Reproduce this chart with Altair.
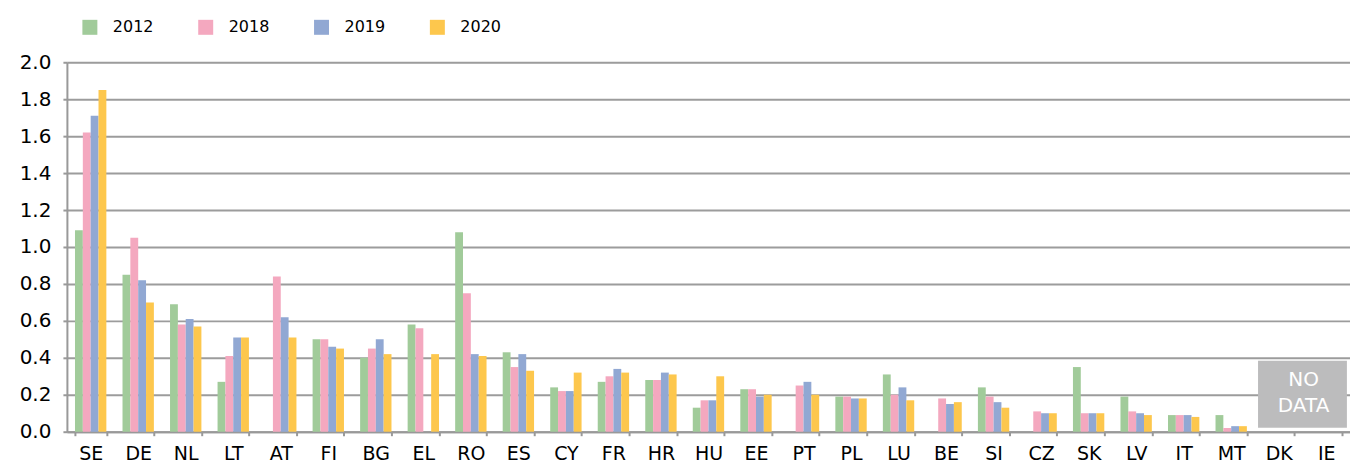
import altair as alt
import pandas as pd

countries = ["SE", "DE", "NL", "LT", "AT", "FI", "BG", "EL", "RO", "ES", "CY", "FR", "HR",
             "HU", "EE", "PT", "PL", "LU", "BE", "SI", "CZ", "SK", "LV", "IT", "MT", "DK", "IE"]
series = ["2012", "2018", "2019", "2020"]
colors = ["#A1CB9A", "#F4A8BF", "#91A8D3", "#FDC74D"]

v2012 = [1.09, 0.85, 0.69, 0.27, None, 0.50, 0.40, 0.58, 1.08, 0.43, 0.24, 0.27, 0.28,
         0.13, 0.23, None, 0.19, 0.31, None, 0.24, None, 0.35, 0.19, 0.09, 0.09, None, None]
v2018 = [1.62, 1.05, 0.58, 0.41, 0.84, 0.50, 0.45, 0.56, 0.75, 0.35, 0.22, 0.30, 0.28,
         0.17, 0.23, 0.25, 0.19, 0.20, 0.18, 0.19, 0.11, 0.10, 0.11, 0.09, 0.02, None, None]
v2019 = [1.71, 0.82, 0.61, 0.51, 0.62, 0.46, 0.50, None, 0.42, 0.42, 0.22, 0.34, 0.32,
         0.17, 0.19, 0.27, 0.18, 0.24, 0.15, 0.16, 0.10, 0.10, 0.10, 0.09, 0.03, None, None]
v2020 = [1.85, 0.70, 0.57, 0.51, 0.51, 0.45, 0.42, 0.42, 0.41, 0.33, 0.32, 0.32, 0.31,
         0.30, 0.20, 0.20, 0.18, 0.17, 0.16, 0.13, 0.10, 0.10, 0.09, 0.08, 0.03, None, None]

y_ticks = [0.0, 0.2, 0.4, 0.6, 0.8, 1.0, 1.2, 1.4, 1.6, 1.8, 2.0]

no_data_label = "NO\nDATA"
no_data_from, no_data_to = "DK", "IE"
no_data_y1, no_data_y2 = 0.022, 0.384
no_data_text_y = 0.281

rows = []
for s, vals in zip(series, [v2012, v2018, v2019, v2020]):
    for c, v in zip(countries, vals):
        if v is not None:
            rows.append({"country": c, "year": s, "value": v})
df = pd.DataFrame(rows)

FONT = "DejaVu Sans"

x_scale = alt.Scale(domain=countries, paddingInner=0.34, paddingOuter=0.17)
y_scale = alt.Scale(domain=[0, 2], nice=False, zero=True)

x_axis = alt.Axis(labelAngle=0, labelFontSize=19, labelFont=FONT, labelColor="#000",
                  labelPadding=9, tickBand="extent", tickSize=4, tickColor="#999",
                  tickWidth=2, domainColor="#999", domainWidth=2, grid=False,
                  labelOverlap=False, title=None)
y_axis = alt.Axis(values=y_ticks, format=".1f", labelFontSize=20, labelFont=FONT,
                  labelColor="#000", labelPadding=12, tickSize=4, tickColor="#999",
                  tickWidth=2, domainColor="#999", domainWidth=2, labelOverlap=False,
                  grid=True, gridColor="#9c9c9c", gridWidth=2, title=None)

bars = alt.Chart(df).mark_bar().encode(
    x=alt.X("country:N", scale=x_scale, sort=countries, axis=x_axis),
    y=alt.Y("value:Q", scale=y_scale, axis=y_axis),
    xOffset=alt.XOffset("year:N", sort=series,
                        scale=alt.Scale(domain=series, paddingInner=0, paddingOuter=0)),
    color=alt.Color("year:N", scale=alt.Scale(domain=series, range=colors), title=None,
                    legend=alt.Legend(orient="none", direction="horizontal",
                                      legendX=15, legendY=-43, symbolType="square",
                                      symbolSize=225, symbolStrokeWidth=0,
                                      labelFontSize=16, labelFont=FONT, labelColor="#000",
                                      labelOffset=15, columnPadding=44, padding=0)),
)

box_df = pd.DataFrame([{"c1": no_data_from, "c2": no_data_to,
                        "y1": no_data_y1, "y2": no_data_y2,
                        "yt": no_data_text_y, "label": no_data_label}])

box = alt.Chart(box_df).mark_rect(color="#BCBCBD", xOffset=-5, x2Offset=5).encode(
    x=alt.X("c1:N", scale=x_scale, bandPosition=0, axis=x_axis),
    x2=alt.X2("c2:N", bandPosition=1),
    y=alt.Y("y1:Q", scale=y_scale, axis=y_axis),
    y2="y2:Q",
)

box_text = alt.Chart(box_df).mark_text(color="white", fontSize=20, font=FONT,
                                       lineBreak="\n", lineHeight=26, dx=-7,
                                       align="center", baseline="middle").encode(
    x=alt.X("c2:N", scale=x_scale, bandPosition=0, axis=x_axis),
    y=alt.Y("yt:Q", scale=y_scale, axis=y_axis),
    text="label:N",
)

chart = alt.layer(bars, box, box_text).properties(
    width=1285, height=370,
    padding={"left": 59, "top": 54, "right": 0, "bottom": 34},
    autosize=alt.AutoSizeParams(type="none"),
).configure_view(stroke=None).configure(font=FONT)

chart.save("out.html", embed_options={"renderer": "svg", "actions": False})
